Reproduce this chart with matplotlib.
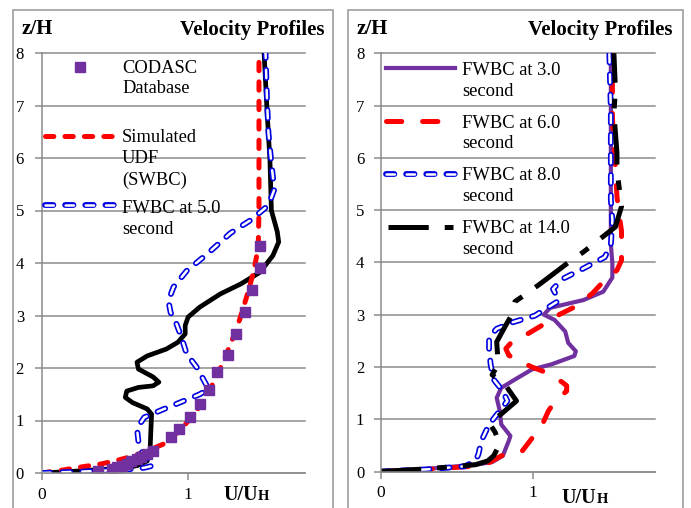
import matplotlib.pyplot as plt
from matplotlib.lines import Line2D
from matplotlib.patches import Rectangle

plt.rcParams['font.family'] = ['Liberation Serif', 'DejaVu Serif']
plt.rcParams['lines.scale_dashes'] = False

# ---- left panel data (U/UH vs z/H) ----
codasc_u = [0.38, 0.48, 0.51, 0.55, 0.58, 0.61, 0.65, 0.68, 0.72, 0.76, 0.88, 0.94,
            1.01, 1.08, 1.14, 1.20, 1.27, 1.33, 1.39, 1.44, 1.49, 1.49]
codasc_z = [0.04, 0.08, 0.11, 0.14, 0.17, 0.22, 0.27, 0.31, 0.36, 0.41, 0.68, 0.83,
            1.07, 1.31, 1.58, 1.92, 2.25, 2.65, 3.06, 3.49, 3.90, 4.32]

swbc_u = [0, 0.15, 0.28, 0.40, 0.50, 0.62, 0.72, 0.83, 0.94, 1.02, 1.10, 1.17, 1.23,
          1.29, 1.35, 1.40, 1.45, 1.48, 1.485, 1.485]
swbc_z = [0, 0.06, 0.12, 0.17, 0.23, 0.32, 0.42, 0.55, 0.80, 1.05, 1.35, 1.70, 2.05,
          2.45, 2.90, 3.35, 3.85, 4.30, 5.00, 8.00]

black_l_u = [0, 0.20, 0.37, 0.55, 0.65, 0.72, 0.74, 0.745, 0.75, 0.72, 0.62, 0.57, 0.58,
             0.66, 0.76, 0.80, 0.76, 0.66, 0.65, 0.72, 0.85, 0.93, 0.98, 0.98, 1.00, 1.08,
             1.22, 1.36, 1.49, 1.58, 1.62, 1.61, 1.57, 1.56, 1.54, 1.52]
black_l_z = [0, 0.03, 0.06, 0.09, 0.14, 0.23, 0.46, 0.80, 1.12, 1.22, 1.34, 1.44, 1.56,
             1.63, 1.66, 1.73, 1.83, 1.98, 2.11, 2.23, 2.36, 2.49, 2.65, 2.81, 2.97, 3.16,
             3.41, 3.60, 3.82, 4.14, 4.40, 4.60, 5.00, 5.96, 6.91, 8.00]

fwbc5_u = [0, 0.30, 0.55, 0.70, 0.76, 0.75, 0.69, 0.66, 0.65, 0.70, 0.81, 0.95, 1.08,
           1.14, 1.06, 0.99, 0.95, 0.92, 0.88, 0.865, 0.90, 0.99, 1.13, 1.29, 1.43, 1.55,
           1.59, 1.57, 1.55, 1.54, 1.53]
fwbc5_z = [0, 0.03, 0.06, 0.10, 0.14, 0.20, 0.36, 0.60, 0.85, 1.06, 1.19, 1.35, 1.50,
           1.60, 2.01, 2.27, 2.62, 2.84, 3.06, 3.28, 3.54, 3.85, 4.17, 4.57, 4.82, 5.10,
           5.40, 5.90, 6.47, 7.10, 8.00]

# ---- right panel data ----
fwbc3_u = [0, 0.30, 0.62, 0.73, 0.80, 0.84, 0.85, 0.79, 0.78, 0.76, 0.79, 0.88, 0.99,
           1.12, 1.27, 1.28, 1.23, 1.21, 1.14, 1.07, 1.11, 1.33, 1.46, 1.52, 1.52, 1.51,
           1.51, 1.51]
fwbc3_z = [0, 0.05, 0.13, 0.18, 0.30, 0.59, 0.68, 0.90, 1.16, 1.41, 1.60, 1.76, 1.95,
           2.05, 2.21, 2.30, 2.46, 2.68, 2.90, 3.00, 3.13, 3.28, 3.44, 3.71, 3.98, 4.34,
           5.04, 8.00]

fwbc6_u = [0, 0.30, 0.60, 0.71, 0.79, 0.93, 0.98, 1.06, 1.10, 1.145, 1.22, 1.22, 1.19,
           1.08, 0.99, 0.84, 0.82, 0.86, 0.95, 1.06, 1.17, 1.28, 1.39, 1.45, 1.55, 1.58,
           1.58, 1.57, 1.55, 1.54, 1.52, 1.52]
fwbc6_z = [0, 0.04, 0.10, 0.17, 0.30, 0.40, 0.59, 0.90, 1.16, 1.35, 1.54, 1.64, 1.71,
           1.90, 2.00, 2.22, 2.35, 2.48, 2.61, 2.80, 3.00, 3.16, 3.41, 3.60, 3.85, 4.04,
           4.60, 4.80, 5.26, 5.82, 6.78, 8.00]

fwbc8_u = [0, 0.30, 0.55, 0.62, 0.64, 0.66, 0.71, 0.78, 0.83, 0.80, 0.74, 0.72, 0.71,
           0.71, 0.76, 0.86, 1.01, 1.17, 1.13, 1.19, 1.32, 1.47, 1.51, 1.52, 1.51, 1.51,
           1.50]
fwbc8_z = [0, 0.04, 0.10, 0.20, 0.33, 0.59, 0.90, 1.16, 1.35, 1.54, 1.76, 2.05, 2.35,
           2.57, 2.73, 2.85, 2.98, 3.27, 3.49, 3.68, 3.87, 4.10, 4.34, 4.80, 5.20, 6.90,
           8.00]

fwbc14_u = [0, 0.30, 0.62, 0.70, 0.74, 0.78, 0.75, 0.71, 0.79, 0.89, 0.82, 0.73, 0.77,
            0.76, 0.82, 0.86, 0.88, 0.96, 1.05, 1.25, 1.33, 1.54, 1.58, 1.55, 1.55, 1.53,
            1.54, 1.53]
fwbc14_z = [0, 0.05, 0.13, 0.20, 0.30, 0.52, 0.75, 0.93, 1.10, 1.35, 1.64, 1.85, 2.05,
            2.48, 2.80, 3.00, 3.25, 3.41, 3.60, 4.04, 4.20, 4.68, 5.07, 5.77, 6.10, 6.86,
            7.30, 8.00]

left_legend = ['CODASC\nDatabase', 'Simulated\nUDF\n(SWBC)', 'FWBC at 5.0\nsecond']
right_legend = ['FWBC at 3.0\nsecond', 'FWBC at 6.0\nsecond', 'FWBC at 8.0\nsecond',
                'FWBC at 14.0\nsecond']

PURPLE = '#7030a0'
RED = '#ff0000'
BLUE = '#0000e0'
GRID = '#8c8c8c'

# line styles
red_short = dict(color=RED, lw=3.6, dashes=(6, 8), dash_capstyle='round')
red_long = dict(color=RED, lw=3.6, dashes=(11, 15), dash_capstyle='round')
black_solid = dict(color='black', lw=3.4)
black_dashdot = dict(color='black', lw=3.6, dashes=(29, 11.5, 7, 11.5), dash_capstyle='butt')
purple_solid = dict(color=PURPLE, lw=3.0)
blue_out = dict(color=BLUE, lw=4.2, dashes=(6, 8.5), dash_capstyle='round')
blue_in = dict(color='white', lw=1.8, dashes=(6, 8.5), dash_capstyle='round')

W, H = 691, 508


def fx(x):
    return x / W


def fy(y):
    return 1 - y / H


fig = plt.figure(figsize=(6.91, 5.08), dpi=100)

# outer boxes
for x0, x1 in [(13, 333), (348, 683)]:
    fig.add_artist(Rectangle((fx(x0), fy(520)), (x1 - x0) / W, (520 - 10) / H,
                             transform=fig.transFigure, fill=False, ec='#a6a6a6', lw=1.3))


def setup(ax, ypad):
    ax.set_xlim(0, 1.8)
    ax.set_ylim(0, 8)
    ax.set_xticks([0, 1])
    ax.set_yticks(range(9))
    ax.grid(axis='y', color=GRID, lw=1.1)
    ax.set_axisbelow(True)
    for gl in ax.get_ygridlines():
        gl.set_clip_on(False)
    ax.spines['top'].set_visible(False)
    ax.spines['right'].set_visible(False)
    ax.spines['left'].set_color(GRID)
    ax.spines['bottom'].set_color(GRID)
    ax.spines['left'].set_linewidth(1.1)
    ax.spines['bottom'].set_linewidth(1.1)
    ax.tick_params(direction='out', length=5, width=1.1, color=GRID, labelsize=12)
    ax.tick_params(axis='y', pad=ypad)
    ax.tick_params(axis='x', pad=4.8, labelsize=12.5)
    ax.patch.set_alpha(0)


ax1 = fig.add_axes([fx(42), fy(473), 263 / W, 420 / H])
setup(ax1, 8)
ax1.plot(black_l_u, black_l_z, **black_solid)
ax1.plot(swbc_u, swbc_z, **red_short)
ax1.plot(fwbc5_u, fwbc5_z, **blue_out)
ax1.plot(fwbc5_u, fwbc5_z, **blue_in)
ax1.plot(codasc_u, codasc_z, 's', color=PURPLE, ms=7.5, ls='none')

ax2 = fig.add_axes([fx(381), fy(471.5), 274 / W, 418.2 / H])
setup(ax2, 7)
ax2.plot(fwbc3_u, fwbc3_z, **purple_solid)
ax2.plot(fwbc6_u, fwbc6_z, **red_long)
ax2.plot(fwbc8_u, fwbc8_z, **blue_out)
ax2.plot(fwbc8_u, fwbc8_z, **blue_in)
ax2.plot(fwbc14_u, fwbc14_z, **black_dashdot)

# headings
for x_z, x_v in [(22, 325), (357, 672)]:
    fig.text(fx(x_z), fy(34.5), 'z/H', fontsize=15, fontweight='bold', va='baseline')
    fig.text(fx(x_v), fy(34.5), 'Velocity Profiles', fontsize=15, fontweight='bold',
             va='baseline', ha='right')

# axis name U/UH with a small-caps H
for x_u, base in [(223, 500), (561.5, 503)]:
    t = fig.text(fx(x_u), fy(base), 'U/U', fontsize=14.5, fontweight='bold', va='baseline')
    ax1.annotate('H', xy=(1, 0), xycoords=t, xytext=(0.3, 3.9), textcoords='offset points',
                 fontsize=10.5, fontweight='bold', va='baseline', ha='left',
                 annotation_clip=False)


# hand-built legends (handle next to first text line)
def handle(x0, x1, y, style):
    fig.add_artist(Line2D([fx(x0), fx(x1)], [fy(y), fy(y)], transform=fig.transFigure, **style))


def label(x, baselines, text):
    for b, line in zip(baselines, text.split('\n')):
        fig.text(fx(x), fy(b), line, fontsize=13.3, va='baseline')


fig.add_artist(Line2D([fx(80)], [fy(66.5)], transform=fig.transFigure, marker='s',
                      ms=7.5, color=PURPLE, ls='none'))
handle(45, 116, 136, red_short)
handle(45, 117, 205, blue_out)
handle(45, 117, 205, blue_in)
label(122, [73.3, 93.3], left_legend[0])
label(122, [141.7, 163.3, 184.5], left_legend[1])
label(122, [213.3, 233.5], left_legend[2])

handle(386, 455, 68, purple_solid)
handle(386, 455, 121, red_long)
handle(386, 455, 174, blue_out)
handle(386, 455, 174, blue_in)
handle(388, 453, 227, black_dashdot)
label(462, [75, 96], right_legend[0])
label(462, [127.7, 148.5], right_legend[1])
label(462, [180, 201], right_legend[2])
label(462, [232.7, 254], right_legend[3])

fig.savefig('out.png', dpi=100)
